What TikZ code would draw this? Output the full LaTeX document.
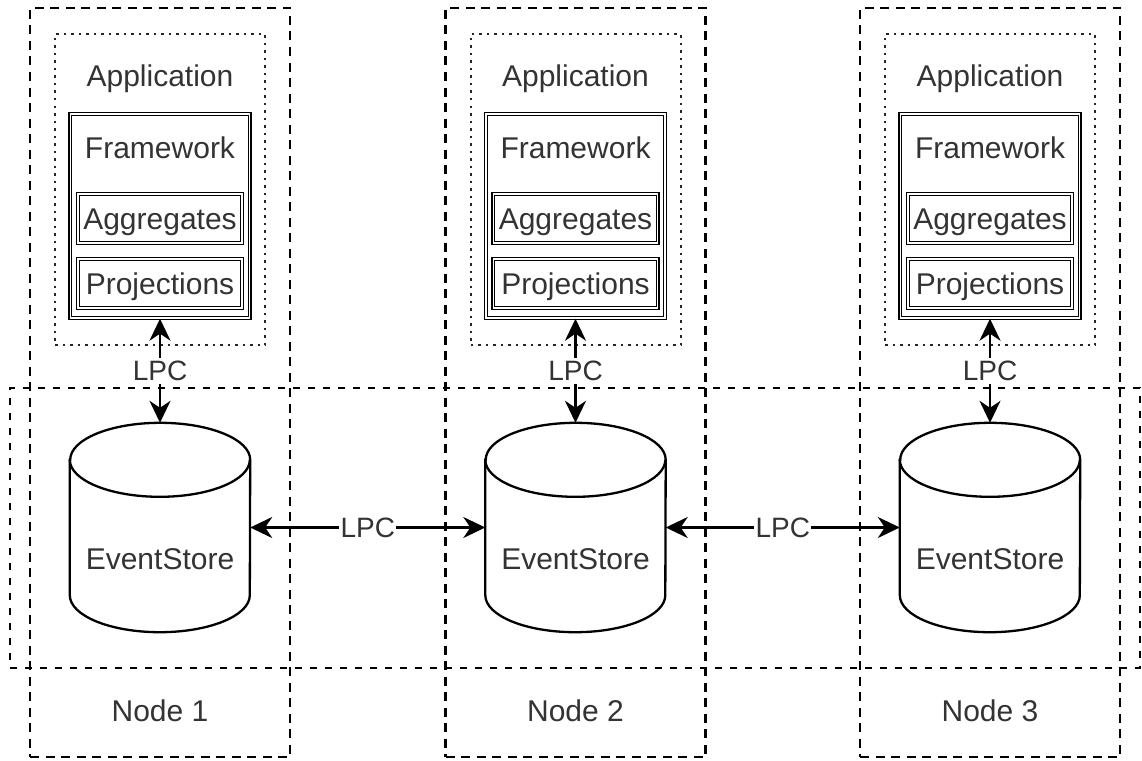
\documentclass[tikz,border=0pt]{standalone}
\usepackage{fontspec}
\setmainfont{Liberation Sans}
\usetikzlibrary{arrows.meta,calc}

\begin{document}
\begin{tikzpicture}[x=1pt,y=-1pt,
  every node/.style={font=\fontsize{30}{36}\selectfont, text=black!80, inner sep=0pt,
    text height=21.5pt, text depth=0pt},
  nodebox/.style={draw=black, line width=2.4pt, dash pattern=on 9pt off 6.5pt},
  clusterbox/.style={draw=black, line width=2.2pt, dash pattern=on 7pt off 8pt},
  appbox/.style={draw=black!85, line width=2pt, dash pattern=on 2.5pt off 5pt},
  fwbox/.style={draw=black, line width=1.1pt, double=white, double distance=1.6pt},
  modbox/.style={draw=black, line width=1.1pt, double=white, double distance=1.6pt},
  dbshape/.style={draw=black, line width=2.3pt},
  link/.style={draw=black, line width=2.3pt, {Stealth[length=22pt,width=21pt,inset=7pt]}-{Stealth[length=22pt,width=21pt,inset=7pt]}},
  lbl/.style={fill=white, inner xsep=1.5pt, inner ysep=3pt, font=\fontsize{28}{34}\selectfont, text height=20pt}
]
\useasboundingbox (0,0) rectangle (1142,760);

% shared event-store network
\node[clusterbox, minimum width=1130pt, minimum height=280pt] (cluster) at (575,528) {};

\foreach \i/\cx in {1/160,2/575.5,3/990}{
  % machine
  \node[nodebox, minimum width=260pt, minimum height=749pt] (node\i) at (\cx,382.5) {};
  \node (nodelbl\i) at (\cx,711) {Node \i};
  % application stack
  \node[appbox, minimum width=210pt, minimum height=311pt] (app\i) at (\cx,189.5) {};
  \node (applbl\i) at (\cx,76) {Application};
  \node[fwbox, minimum width=179.3pt, minimum height=204.3pt] (fw\i) at (\cx,216) {};
  \node (fwlbl\i) at (\cx,147.5) {Framework};
  \node[modbox, minimum width=164.3pt, minimum height=49.3pt] (agg\i) at (\cx,218.5) {Aggregates};
  \node[modbox, minimum width=164.3pt, minimum height=49.3pt] (proj\i) at (\cx,283.5) {Projections};
  % event store cylinder
  \node[minimum width=180pt, minimum height=209pt] (db\i) at (\cx,527.5) {};
  \draw[dbshape]
    ([yshift=-37pt]db\i.north west) -- ([yshift=37pt]db\i.south west)
    arc[start angle=180, end angle=360, x radius=90pt, y radius=37pt]
    -- ([yshift=-37pt]db\i.north east)
    arc[start angle=0, end angle=180, x radius=90pt, y radius=37pt] -- cycle;
  \draw[dbshape] ([yshift=-37pt]db\i.north west)
    arc[start angle=180, end angle=360, x radius=90pt, y radius=37pt];
  \node (eslbl\i) at (\cx,558.5) {EventStore};
  % local call between application and store
  \draw[link] (fw\i.south) -- node[lbl] {LPC} (db\i.north);
}

% replication between stores
\draw[link] (db1.east) -- node[lbl] {LPC} (db2.west);
\draw[link] (db2.east) -- node[lbl] {LPC} (db3.west);
\end{tikzpicture}
\end{document}
